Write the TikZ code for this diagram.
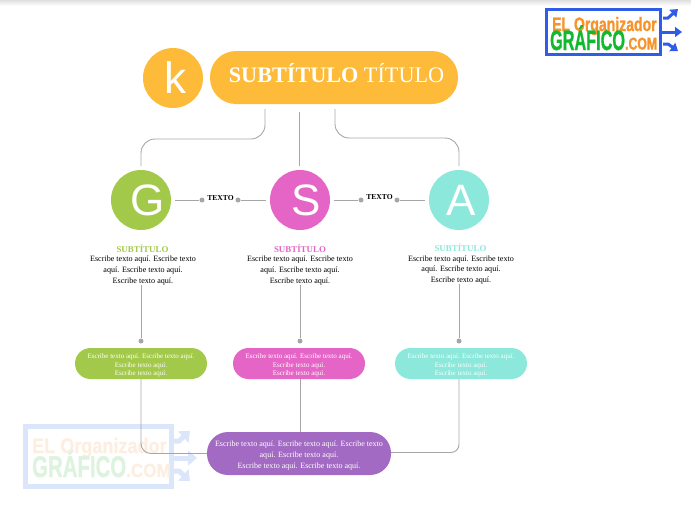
\documentclass[tikz,border=0pt]{standalone}
\usepackage{fontspec}
\setmainfont{Liberation Serif}
\newfontfamily\lettersf{Liberation Sans}
\newfontfamily\logosf[FakeBold=1.2]{Liberation Sans Bold}
\usetikzlibrary{arrows.meta}
\definecolor{orangeT}{HTML}{FDBB39}
\definecolor{greenG}{HTML}{A3C94A}
\definecolor{pinkS}{HTML}{E465C5}
\definecolor{tealA}{HTML}{8BE8DA}
\definecolor{purpleP}{HTML}{A26AC2}
\definecolor{lineC}{HTML}{A6A6A6}
\definecolor{logoB}{HTML}{2F5DE8}
\definecolor{logoO}{HTML}{F7932B}
\definecolor{logoG}{HTML}{12B92F}
\definecolor{markB}{HTML}{DCE6FA}
\definecolor{markO}{HTML}{FCEFE2}
\definecolor{markG}{HTML}{DDF3DF}
\begin{document}
\begin{tikzpicture}[x=1pt, y=-1pt,
        letter/.style={circle, minimum size=60pt, inner sep=0pt, outer sep=4pt, text=white, font=\lettersf\fontsize{44}{44}\selectfont},
        pill/.style={minimum width=132pt, minimum height=31pt, inner sep=0pt, rounded corners=15.5pt},
        pilltxt/.style={text=white, align=center, inner sep=0pt, font=\fontsize{7}{8.4}\selectfont},
        dot/.style={circle, fill=lineC, minimum size=5pt, inner sep=0pt},
        conn/.style={draw=lineC, line width=0.9pt},
        subt/.style={font=\bfseries\fontsize{8.9}{9}\selectfont},
        body/.style={align=center, font=\fontsize{8.1}{10.7}\selectfont},
        linktxt/.style={font=\bfseries\fontsize{7.6}{8}\selectfont},
        logotxt/.style={anchor=base west, inner sep=0pt},
        logoarrow/.style={line width=3pt, -{Triangle[length=7pt,width=10pt]}},
        markarrow/.style={line width=5pt, draw=markB, -{Triangle[length=9pt,width=15pt,fill=markB]}}]
        \useasboundingbox (0,0) rectangle (691,509);
        \shade[top color=black!12, bottom color=white] (0,0) rectangle (691,6);

        \node[draw=markB, line width=4.5pt, minimum width=146pt, minimum height=60pt, inner sep=0pt] (markbox) at (98.5,456.5) {};
        \coordinate (markA) at (190,431);
        \coordinate (markC) at (197,458);
        \coordinate (markE) at (190,481);
        \draw[markarrow] (173,441) -- (179,441) -- (markA);
        \draw[markarrow] (markbox.east |- markC) -- (markC);
        \draw[markarrow] (173,471) -- (179,471) -- (markE);
        \node[logotxt, xscale=0.86, text=markO, font=\logosf\fontsize{21}{21}\selectfont] (markT) at (32,453) {EL Organizador};
        \node[logotxt, xscale=0.68, text=markG, font=\logosf\fontsize{30}{30}\selectfont] (markU) at (32,477) {GRÁFICO};
        \node[logotxt, xscale=0.9, text=markO, font=\logosf\fontsize{19}{19}\selectfont] (markV) at (126,477) {.COM};

        \node[draw=logoB, fill=white, line width=3.4pt, minimum width=114pt, minimum height=45pt, inner sep=0pt] (logobox) at (603.5,32) {};
        \coordinate (logoA) at (678,9);
        \coordinate (logoC) at (682,32);
        \coordinate (logoE) at (678,51);
        \draw[logoarrow, logoB] (663,18) -- (668,18) -- (logoA);
        \draw[logoarrow, logoB] (logobox.east) -- (logoC);
        \draw[logoarrow, logoB] (663,44) -- (668,44) -- (logoE);
        \node[logotxt, xscale=0.72, text=logoO, font=\logosf\fontsize{19.5}{19.5}\selectfont] (logoT) at (552,31) {EL Organizador};
        \node[logotxt, xscale=0.58, text=logoG, font=\logosf\fontsize{28}{28}\selectfont] (logoU) at (550,50) {GRÁFICO};
        \node[logotxt, xscale=0.72, text=logoO, font=\logosf\fontsize{17}{17}\selectfont] (logoV) at (625,49.5) {.COM};

        \node[letter, fill=orangeT] (k) at (173,78) {\hspace{4pt}k};
        \node[pill, fill=orangeT, minimum width=248pt, minimum height=53pt, rounded corners=26pt] (title) at (334,77.5) {};
        \node[text=white, font=\fontsize{22.2}{22}\selectfont] (titletxt) at (336.5,73) {\textbf{SUBTÍTULO} TÍTULO};

        \node[letter, fill=greenG] (G) at (141,200) {\hspace{13pt}G};
        \node[letter, fill=pinkS] (S) at (300,200) {\hspace{12pt}S};
        \node[letter, fill=tealA] (A) at (459,200) {\hspace{4pt}A};

        \coordinate (titleL) at (265,109);
        \coordinate (titleM) at (299,112);
        \coordinate (titleR) at (335,109);
        \draw[conn, rounded corners=14pt] (titleL) -- (265,139) -- (141,139) -- (G);
        \draw[conn] (titleM) -- (299,166);
        \draw[conn, rounded corners=14pt] (titleR) -- (335,138) -- (459,138) -- (A);

        \node[dot] (d1) at (202,200) {};
        \node[dot] (d2) at (238,200) {};
        \node[dot] (d3) at (361,200) {};
        \node[dot] (d4) at (397,200) {};
        \node[linktxt] (t1) at (220.5,198) {TEXTO};
        \node[linktxt] (t2) at (379.5,197) {TEXTO};
        \draw[conn] (G) -- (d1);
        \draw[conn] (d2) -- (S);
        \draw[conn] (S) -- (d3);
        \draw[conn] (d4) -- (A);

        \node[subt, text=greenG] (subG) at (142.5,249) {SUBTÍTULO};
        \node[subt, text=pinkS] (subS) at (300,249) {SUBTÍTULO};
        \node[subt, text=tealA] (subA) at (460.5,248) {SUBTÍTULO};
        \node[body] (txtG) at (143,270.5) {Escribe  texto aquí. Escribe  texto\\aquí. Escribe  texto aquí.\\Escribe  texto aquí.};
        \node[body] (txtS) at (300,270.5) {Escribe  texto aquí. Escribe  texto\\aquí. Escribe  texto aquí.\\Escribe  texto aquí.};
        \node[body] (txtA) at (461,270) {Escribe  texto aquí. Escribe  texto\\aquí. Escribe  texto aquí.\\Escribe  texto aquí.};

        \node[dot] (dG) at (141,341) {};
        \node[dot] (dS) at (300,341) {};
        \node[dot] (dA) at (459,341) {};
        \coordinate (fromG) at (141,285);
        \coordinate (fromS) at (300,285);
        \coordinate (fromA) at (459,284);
        \draw[conn] (fromG) -- (dG);
        \draw[conn] (fromS) -- (dS);
        \draw[conn] (fromA) -- (dA);

        \node[pill, fill=greenG] (pillG) at (141,363.5) {};
        \node[pill, fill=pinkS] (pillS) at (299,363.5) {};
        \node[pill, fill=tealA] (pillA) at (461,363.5) {};
        \node[pill, fill=purpleP, minimum width=184pt, minimum height=43pt, rounded corners=21pt] (mainP) at (299,453.5) {};
        \node[pilltxt] (ptxtG) at (141,365.5) {Escribe  texto aquí. Escribe  texto aquí.\\Escribe  texto aquí.\\Escribe  texto aquí.};
        \node[pilltxt] (ptxtS) at (299,365.5) {Escribe  texto aquí. Escribe  texto aquí.\\Escribe  texto aquí.\\Escribe  texto aquí.};
        \node[pilltxt] (ptxtA) at (461,365.5) {Escribe  texto aquí. Escribe  texto aquí.\\Escribe  texto aquí.\\Escribe  texto aquí.};
        \node[pilltxt, font=\fontsize{8.05}{10.7}\selectfont] (ptxtP) at (299,455.5) {Escribe  texto aquí. Escribe  texto aquí. Escribe  texto\\aquí. Escribe  texto aquí.\\Escribe  texto aquí. Escribe  texto aquí.};

        \draw[conn, rounded corners=10pt] (pillG.south) -- (141,453.5) -- (mainP.west);
        \draw[conn] (pillS.south -| S) -- (mainP.north -| S);
        \draw[conn, rounded corners=8pt] (pillA.south -| A) -- (459,452.5) -- (mainP.east |- 0,452.5);
    \end{tikzpicture}
\end{document}
